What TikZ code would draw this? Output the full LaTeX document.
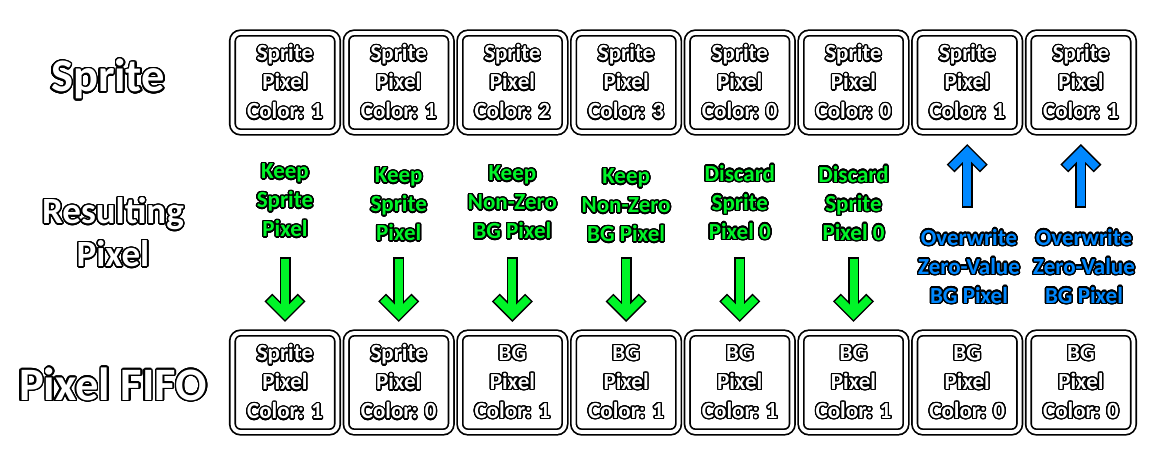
\documentclass[tikz,border=0pt]{standalone}
\usepackage{fontspec}
\setmainfont{Carlito}
\usepackage[copies]{contour}
\contournumber{32}
\usetikzlibrary{calc}
\definecolor{grn}{RGB}{0,245,40}
\definecolor{blu}{RGB}{0,136,255}
\newcommand{\wt}[1]{\textcolor{white}{\contour{black}{#1}}}
\newcommand{\gt}[1]{\textcolor{grn}{\contour{black}{#1}}}
\newcommand{\bt}[1]{\textcolor{blu}{\contour{black}{#1}}}
% #1 colour, #2 tail (outer end), #3 tip (path point)
\newcommand{\fatarrow}[3]{%
  \draw[black, line width=11pt, line cap=butt] (#2) -- (#3);
  \draw[black, line width=11pt, line cap=rect, miter limit=10]
    ($(#3)!18pt!-45:(#2)$) -- (#3) -- ($(#3)!18pt!45:(#2)$);
  \draw[#1, line width=8pt, line cap=butt] ($(#2)!1.5pt!(#3)$) -- (#3);
  \draw[#1, line width=8pt, line cap=rect, miter limit=10]
    ($(#3)!18pt!-45:(#2)$) -- (#3) -- ($(#3)!18pt!45:(#2)$);
}
\begin{document}
\begin{tikzpicture}[x=1pt,y=-1pt,
  pbox/.style={draw=black, line width=1.7pt, double=white, double distance=3.8pt,
    rounded corners=8pt, minimum width=105pt, minimum height=99pt, inner sep=0pt,
    align=center, font={\fontsize{23}{29}\selectfont\bfseries\contourlength{1.2pt}}},
  lab/.style={inner sep=0pt, align=center,
    font={\fontsize{23}{29}\selectfont\bfseries\contourlength{1.4pt}}},
  biglab/.style={inner sep=0pt, align=center,
    font={\fontsize{46.5}{52}\selectfont\bfseries\contourlength{1.5pt}}},
  midlab/.style={inner sep=0pt, align=center,
    font={\fontsize{37}{43}\selectfont\bfseries\contourlength{1.4pt}}}
]
\useasboundingbox (0,0) rectangle (1161,466);

% row labels
\node[biglab] (lsprite) at (108,80) {\wt{Sprite}};
\node[midlab] (lres) at (113,233) {\wt{Resulting}\\\wt{Pixel}};
\node[biglab] (lfifo) at (113,385) {\wt{Pixel FIFO}};

% top row (sprite)
\node[pbox] (s1) at (285.0,82.5) {\wt{Sprite}\\\wt{Pixel}\\\wt{Color: 1}};
\node[pbox] (s2) at (398.7,82.5) {\wt{Sprite}\\\wt{Pixel}\\\wt{Color: 1}};
\node[pbox] (s3) at (512.4,82.5) {\wt{Sprite}\\\wt{Pixel}\\\wt{Color: 2}};
\node[pbox] (s4) at (626.1,82.5) {\wt{Sprite}\\\wt{Pixel}\\\wt{Color: 3}};
\node[pbox] (s5) at (739.8,82.5) {\wt{Sprite}\\\wt{Pixel}\\\wt{Color: 0}};
\node[pbox] (s6) at (853.5,82.5) {\wt{Sprite}\\\wt{Pixel}\\\wt{Color: 0}};
\node[pbox] (s7) at (967.2,82.5) {\wt{Sprite}\\\wt{Pixel}\\\wt{Color: 1}};
\node[pbox] (s8) at (1080.9,82.5) {\wt{Sprite}\\\wt{Pixel}\\\wt{Color: 1}};

% bottom row (pixel fifo)
\node[pbox] (b1) at (285.0,382.5) {\wt{Sprite}\\\wt{Pixel}\\\wt{Color: 1}};
\node[pbox] (b2) at (398.7,382.5) {\wt{Sprite}\\\wt{Pixel}\\\wt{Color: 0}};
\node[pbox] (b3) at (512.4,382.5) {\wt{BG}\\\wt{Pixel}\\\wt{Color: 1}};
\node[pbox] (b4) at (626.1,382.5) {\wt{BG}\\\wt{Pixel}\\\wt{Color: 1}};
\node[pbox] (b5) at (739.8,382.5) {\wt{BG}\\\wt{Pixel}\\\wt{Color: 1}};
\node[pbox] (b6) at (853.5,382.5) {\wt{BG}\\\wt{Pixel}\\\wt{Color: 1}};
\node[pbox] (b7) at (967.2,382.5) {\wt{BG}\\\wt{Pixel}\\\wt{Color: 0}};
\node[pbox] (b8) at (1080.9,382.5) {\wt{BG}\\\wt{Pixel}\\\wt{Color: 0}};

% middle labels
\node[lab] (g1) at (285.0,201) {\gt{Keep}\\\gt{Sprite}\\\gt{Pixel}};
\node[lab] (g2) at (398.7,205) {\gt{Keep}\\\gt{Sprite}\\\gt{Pixel}};
\node[lab] (g3) at (512.4,203) {\gt{Keep}\\\gt{Non-Zero}\\\gt{BG Pixel}};
\node[lab] (g4) at (626.1,206) {\gt{Keep}\\\gt{Non-Zero}\\\gt{BG Pixel}};
\node[lab] (g5) at (739.8,203) {\gt{Discard}\\\gt{Sprite}\\\gt{Pixel 0}};
\node[lab] (g6) at (853.5,204) {\gt{Discard}\\\gt{Sprite}\\\gt{Pixel 0}};
\node[lab] (u7) at (969.0,267) {\bt{Overwrite}\\\bt{Zero-Value}\\\bt{BG Pixel}};
\node[lab] (u8) at (1084.0,267) {\bt{Overwrite}\\\bt{Zero-Value}\\\bt{BG Pixel}};

% green arrows (down)
\foreach \i in {1,...,6}{
  \coordinate (ga\i) at ($(b\i.north)+(0,-75)$);
  \coordinate (gb\i) at ($(b\i.north)+(0,-18)$);
  \fatarrow{grn}{ga\i}{gb\i}
}
% blue arrows (up)
\foreach \i in {7,8}{
  \coordinate (ua\i) at ($(s\i.south)+(0,75)$);
  \coordinate (ub\i) at ($(s\i.south)+(0,19)$);
  \fatarrow{blu}{ua\i}{ub\i}
}
\end{tikzpicture}
\end{document}
